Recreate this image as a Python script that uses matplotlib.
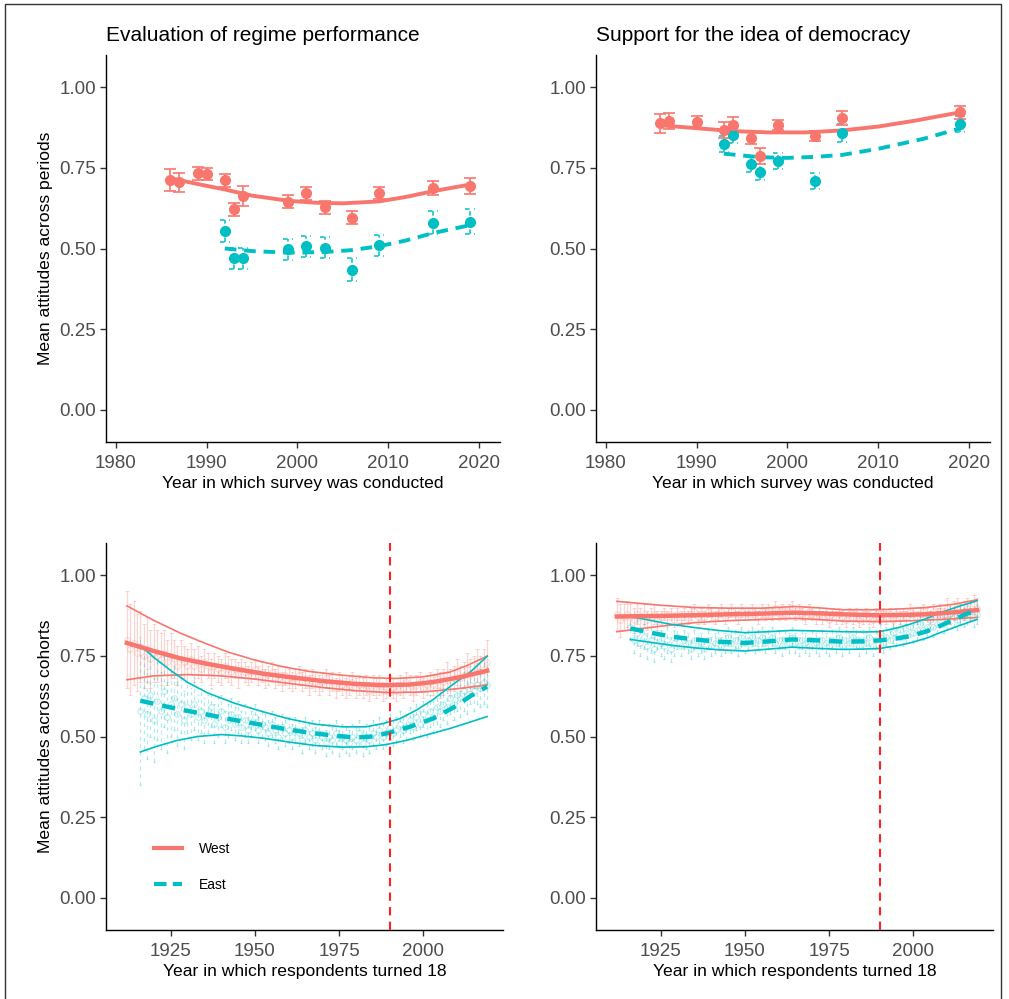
import numpy as np
import matplotlib
matplotlib.use("Agg")
import matplotlib.pyplot as plt
from matplotlib.lines import Line2D

plt.rcParams['font.family'] = ['Liberation Sans', 'DejaVu Sans']

WEST = '#F8766D'
EAST = '#00BFC4'

# ---- period panels: regime performance ----
reg_w_year = [1986, 1987, 1989, 1990, 1992, 1993, 1994, 1999, 2001, 2003, 2006, 2009, 2015, 2019]
reg_w_mean = [0.712, 0.705, 0.733, 0.731, 0.711, 0.622, 0.663, 0.645, 0.671, 0.628, 0.596, 0.672, 0.688, 0.695]
reg_w_err = [0.034, 0.030, 0.020, 0.020, 0.020, 0.020, 0.031, 0.020, 0.020, 0.020, 0.020, 0.020, 0.022, 0.025]
reg_e_year = [1992, 1993, 1994, 1999, 2001, 2003, 2006, 2009, 2015, 2019]
reg_e_mean = [0.554, 0.469, 0.469, 0.497, 0.507, 0.503, 0.434, 0.510, 0.580, 0.583]
reg_e_err = [0.033, 0.033, 0.033, 0.033, 0.033, 0.033, 0.035, 0.033, 0.035, 0.038]
reg_w_fit_x = [1986, 1989, 1992, 1995, 1999, 2002, 2005, 2009, 2012, 2015, 2019]
reg_w_fit_y = [0.718, 0.700, 0.683, 0.664, 0.648, 0.642, 0.640, 0.646, 0.660, 0.678, 0.698]
reg_e_fit_x = [1992, 1995, 1999, 2003, 2006, 2009, 2012, 2015, 2019]
reg_e_fit_y = [0.500, 0.492, 0.487, 0.489, 0.495, 0.507, 0.525, 0.548, 0.572]

# ---- period panels: support for democracy ----
dem_w_year = [1986, 1987, 1990, 1993, 1994, 1996, 1997, 1999, 2003, 2006, 2019]
dem_w_mean = [0.888, 0.895, 0.893, 0.867, 0.884, 0.843, 0.788, 0.882, 0.848, 0.905, 0.922]
dem_w_err = [0.030, 0.025, 0.018, 0.025, 0.025, 0.018, 0.025, 0.016, 0.016, 0.022, 0.020]
dem_e_year = [1993, 1994, 1996, 1997, 1999, 2003, 2006, 2019]
dem_e_mean = [0.825, 0.851, 0.762, 0.736, 0.770, 0.710, 0.858, 0.885]
dem_e_err = [0.025, 0.025, 0.025, 0.025, 0.025, 0.025, 0.028, 0.025]
dem_w_fit_x = [1986, 1990, 1994, 1998, 2002, 2006, 2010, 2014, 2019]
dem_w_fit_y = [0.882, 0.873, 0.864, 0.860, 0.860, 0.866, 0.878, 0.896, 0.922]
dem_e_fit_x = [1993, 1997, 2000, 2003, 2006, 2010, 2015, 2019]
dem_e_fit_y = [0.794, 0.783, 0.781, 0.784, 0.790, 0.809, 0.840, 0.872]

# ---- cohort panels ----
coh_w_year = list(range(1912, 2020))
coh_e_year = list(range(1916, 2020))

coh_reg_w_mean = [
    0.80, 0.77, 0.79, 0.76, 0.78, 0.75, 0.77, 0.74, 0.76, 0.75,
    0.74, 0.76, 0.73, 0.75, 0.74, 0.72, 0.74, 0.73, 0.72, 0.74,
    0.72, 0.73, 0.71, 0.73, 0.72, 0.70, 0.72, 0.71, 0.70, 0.72,
    0.71, 0.70, 0.71, 0.69, 0.71, 0.70, 0.69, 0.70, 0.71, 0.69,
    0.70, 0.68, 0.69, 0.70, 0.68, 0.69, 0.67, 0.69, 0.68, 0.67,
    0.68, 0.69, 0.67, 0.68, 0.66, 0.68, 0.67, 0.66, 0.67, 0.68,
    0.66, 0.67, 0.65, 0.67, 0.66, 0.65, 0.66, 0.67, 0.65, 0.66,
    0.65, 0.66, 0.64, 0.66, 0.65, 0.66, 0.64, 0.65, 0.66, 0.65,
    0.64, 0.66, 0.65, 0.67, 0.66, 0.64, 0.66, 0.67, 0.65, 0.66,
    0.67, 0.66, 0.68, 0.66, 0.67, 0.69, 0.67, 0.68, 0.70, 0.68,
    0.69, 0.71, 0.69, 0.70, 0.72, 0.70, 0.71, 0.73]
coh_reg_w_err = [
    0.15, 0.14, 0.13, 0.12, 0.11, 0.10, 0.10, 0.09, 0.09, 0.08,
    0.08, 0.07, 0.07, 0.07, 0.06, 0.06, 0.06, 0.05, 0.05, 0.05,
    0.05, 0.05, 0.04, 0.04, 0.04, 0.04, 0.04, 0.04, 0.04, 0.04,
    0.04, 0.04, 0.03, 0.04, 0.03, 0.03, 0.03, 0.03, 0.03, 0.03,
    0.03, 0.03, 0.03, 0.03, 0.03, 0.03, 0.03, 0.03, 0.03, 0.03,
    0.03, 0.03, 0.03, 0.03, 0.03, 0.03, 0.03, 0.03, 0.03, 0.03,
    0.03, 0.03, 0.03, 0.03, 0.03, 0.03, 0.03, 0.03, 0.03, 0.03,
    0.03, 0.03, 0.03, 0.03, 0.03, 0.03, 0.03, 0.03, 0.03, 0.03,
    0.03, 0.03, 0.03, 0.03, 0.03, 0.03, 0.03, 0.03, 0.03, 0.03,
    0.03, 0.03, 0.03, 0.04, 0.04, 0.04, 0.04, 0.04, 0.04, 0.04,
    0.04, 0.05, 0.05, 0.05, 0.05, 0.05, 0.06, 0.07]
coh_reg_e_mean = [
    0.58, 0.62, 0.57, 0.63, 0.55, 0.61, 0.58, 0.64, 0.56, 0.60,
    0.62, 0.57, 0.60, 0.55, 0.59, 0.57, 0.60, 0.56, 0.58, 0.55,
    0.57, 0.59, 0.54, 0.56, 0.58, 0.53, 0.55, 0.57, 0.54, 0.56,
    0.53, 0.55, 0.52, 0.54, 0.56, 0.52, 0.54, 0.53, 0.51, 0.54,
    0.52, 0.50, 0.53, 0.51, 0.52, 0.50, 0.52, 0.51, 0.49, 0.52,
    0.50, 0.51, 0.49, 0.51, 0.50, 0.48, 0.50, 0.49, 0.51, 0.48,
    0.50, 0.49, 0.48, 0.50, 0.49, 0.51, 0.48, 0.50, 0.49, 0.51,
    0.50, 0.52, 0.50, 0.51, 0.53, 0.51, 0.52, 0.54, 0.52, 0.53,
    0.55, 0.53, 0.56, 0.54, 0.57, 0.55, 0.58, 0.56, 0.59, 0.58,
    0.60, 0.59, 0.62, 0.60, 0.63, 0.62, 0.64, 0.63, 0.66, 0.64,
    0.66, 0.65, 0.67, 0.66]
coh_reg_e_err = [
    0.23, 0.16, 0.14, 0.13, 0.13, 0.12, 0.12, 0.11, 0.11, 0.10,
    0.10, 0.10, 0.09, 0.09, 0.08, 0.08, 0.08, 0.07, 0.07, 0.07,
    0.06, 0.06, 0.06, 0.06, 0.05, 0.05, 0.05, 0.05, 0.05, 0.05,
    0.05, 0.05, 0.04, 0.04, 0.04, 0.04, 0.04, 0.04, 0.04, 0.04,
    0.04, 0.04, 0.04, 0.04, 0.04, 0.04, 0.04, 0.04, 0.04, 0.04,
    0.04, 0.04, 0.04, 0.04, 0.04, 0.04, 0.04, 0.04, 0.04, 0.04,
    0.04, 0.04, 0.04, 0.04, 0.04, 0.04, 0.04, 0.04, 0.04, 0.04,
    0.04, 0.04, 0.04, 0.04, 0.04, 0.04, 0.04, 0.04, 0.04, 0.04,
    0.04, 0.04, 0.04, 0.04, 0.04, 0.05, 0.05, 0.05, 0.05, 0.05,
    0.05, 0.05, 0.05, 0.05, 0.05, 0.06, 0.06, 0.06, 0.06, 0.06,
    0.06, 0.06, 0.07, 0.07]
coh_reg_w_fit_x = [1912, 1920, 1928, 1936, 1945, 1953, 1962, 1971, 1980, 1988, 1996, 2003, 2011, 2019]
coh_reg_w_fit_y = [0.790, 0.765, 0.742, 0.725, 0.708, 0.694, 0.682, 0.671, 0.663, 0.659, 0.661, 0.669, 0.684, 0.704]
coh_reg_w_hi_x = [1912, 1920, 1928, 1935, 1942, 1950, 1958, 1966, 1975, 1985, 1992, 2000, 2008, 2013, 2019]
coh_reg_w_hi_y = [0.905, 0.860, 0.820, 0.790, 0.762, 0.737, 0.717, 0.702, 0.691, 0.682, 0.680, 0.685, 0.700, 0.720, 0.749]
coh_reg_w_lo_x = [1912, 1920, 1930, 1940, 1950, 1960, 1970, 1980, 1990, 2000, 2010, 2019]
coh_reg_w_lo_y = [0.676, 0.688, 0.692, 0.688, 0.678, 0.665, 0.652, 0.642, 0.636, 0.638, 0.648, 0.660]
coh_reg_e_fit_x = [1916, 1922, 1928, 1935, 1942, 1950, 1958, 1966, 1974, 1980, 1985, 1990, 1996, 2003, 2009, 2014, 2019]
coh_reg_e_fit_y = [0.611, 0.597, 0.583, 0.570, 0.555, 0.540, 0.525, 0.512, 0.502, 0.497, 0.500, 0.512, 0.530, 0.556, 0.590, 0.625, 0.655]
coh_reg_e_hi_x = [1916, 1920, 1925, 1930, 1936, 1944, 1952, 1960, 1968, 1976, 1983, 1988, 1993, 1998, 2003, 2008, 2014, 2019]
coh_reg_e_hi_y = [0.783, 0.745, 0.705, 0.668, 0.635, 0.603, 0.578, 0.555, 0.538, 0.530, 0.530, 0.540, 0.555, 0.582, 0.615, 0.655, 0.700, 0.749]
coh_reg_e_lo_x = [1916, 1921, 1927, 1933, 1940, 1946, 1953, 1960, 1968, 1976, 1983, 1989, 1995, 2001, 2008, 2014, 2019]
coh_reg_e_lo_y = [0.452, 0.470, 0.488, 0.500, 0.506, 0.502, 0.494, 0.483, 0.472, 0.467, 0.468, 0.475, 0.488, 0.505, 0.525, 0.545, 0.562]

coh_dem_w_mean = [
    0.88, 0.86, 0.87, 0.88, 0.87, 0.86, 0.88, 0.87, 0.88, 0.86,
    0.87, 0.88, 0.86, 0.87, 0.88, 0.87, 0.88, 0.86, 0.88, 0.87,
    0.88, 0.87, 0.88, 0.89, 0.87, 0.88, 0.87, 0.89, 0.88, 0.87,
    0.88, 0.89, 0.87, 0.88, 0.89, 0.88, 0.87, 0.89, 0.88, 0.88,
    0.89, 0.88, 0.87, 0.89, 0.88, 0.89, 0.88, 0.90, 0.88, 0.89,
    0.88, 0.89, 0.90, 0.88, 0.89, 0.88, 0.87, 0.89, 0.88, 0.87,
    0.88, 0.87, 0.88, 0.86, 0.88, 0.87, 0.88, 0.87, 0.86, 0.88,
    0.87, 0.88, 0.86, 0.87, 0.88, 0.87, 0.86, 0.88, 0.87, 0.88,
    0.87, 0.88, 0.86, 0.88, 0.87, 0.88, 0.87, 0.89, 0.88, 0.87,
    0.88, 0.89, 0.88, 0.87, 0.89, 0.88, 0.89, 0.88, 0.90, 0.88,
    0.89, 0.90, 0.88, 0.89, 0.90, 0.89, 0.91, 0.90]
coh_dem_w_err = [
    0.05, 0.05, 0.04, 0.04, 0.04, 0.04, 0.03, 0.03, 0.03, 0.03,
    0.03, 0.03, 0.03, 0.02, 0.02, 0.02, 0.02, 0.02, 0.02, 0.02,
    0.02, 0.02, 0.02, 0.02, 0.02, 0.02, 0.02, 0.02, 0.02, 0.02,
    0.02, 0.02, 0.02, 0.02, 0.02, 0.02, 0.02, 0.02, 0.02, 0.02,
    0.02, 0.02, 0.02, 0.02, 0.02, 0.02, 0.02, 0.02, 0.02, 0.02,
    0.02, 0.02, 0.02, 0.02, 0.02, 0.02, 0.02, 0.02, 0.02, 0.02,
    0.02, 0.02, 0.02, 0.02, 0.02, 0.02, 0.02, 0.02, 0.02, 0.02,
    0.02, 0.02, 0.02, 0.02, 0.02, 0.02, 0.02, 0.02, 0.02, 0.02,
    0.02, 0.02, 0.02, 0.02, 0.02, 0.02, 0.02, 0.02, 0.02, 0.02,
    0.02, 0.02, 0.02, 0.02, 0.02, 0.02, 0.02, 0.02, 0.03, 0.03,
    0.03, 0.03, 0.03, 0.03, 0.03, 0.03, 0.03, 0.03]
coh_dem_e_mean = [
    0.84, 0.80, 0.82, 0.79, 0.81, 0.78, 0.80, 0.77, 0.81, 0.79,
    0.78, 0.80, 0.77, 0.79, 0.81, 0.78, 0.80, 0.79, 0.77, 0.80,
    0.78, 0.79, 0.77, 0.80, 0.78, 0.79, 0.80, 0.78, 0.79, 0.81,
    0.79, 0.80, 0.78, 0.81, 0.79, 0.80, 0.81, 0.79, 0.80, 0.81,
    0.79, 0.80, 0.81, 0.79, 0.80, 0.78, 0.80, 0.79, 0.81, 0.79,
    0.78, 0.80, 0.79, 0.78, 0.80, 0.79, 0.78, 0.80, 0.79, 0.78,
    0.80, 0.79, 0.81, 0.78, 0.80, 0.79, 0.81, 0.80, 0.78, 0.80,
    0.79, 0.81, 0.78, 0.80, 0.82, 0.79, 0.81, 0.80, 0.82, 0.81,
    0.83, 0.81, 0.82, 0.84, 0.82, 0.83, 0.85, 0.83, 0.84, 0.86,
    0.84, 0.85, 0.87, 0.85, 0.86, 0.88, 0.87, 0.86, 0.88, 0.87,
    0.88, 0.89, 0.87, 0.88]
coh_dem_e_err = [
    0.04, 0.04, 0.04, 0.04, 0.04, 0.04, 0.04, 0.04, 0.04, 0.04,
    0.04, 0.04, 0.04, 0.04, 0.04, 0.03, 0.03, 0.03, 0.03, 0.03,
    0.03, 0.03, 0.03, 0.03, 0.03, 0.03, 0.03, 0.03, 0.03, 0.03,
    0.03, 0.03, 0.03, 0.03, 0.03, 0.03, 0.03, 0.03, 0.03, 0.03,
    0.03, 0.03, 0.03, 0.03, 0.03, 0.03, 0.03, 0.03, 0.03, 0.03,
    0.03, 0.03, 0.03, 0.03, 0.03, 0.03, 0.03, 0.03, 0.03, 0.03,
    0.03, 0.03, 0.03, 0.03, 0.03, 0.03, 0.03, 0.03, 0.03, 0.03,
    0.03, 0.03, 0.03, 0.03, 0.03, 0.03, 0.03, 0.03, 0.03, 0.03,
    0.03, 0.03, 0.03, 0.03, 0.03, 0.03, 0.03, 0.03, 0.03, 0.03,
    0.03, 0.03, 0.03, 0.03, 0.03, 0.03, 0.03, 0.03, 0.03, 0.03,
    0.03, 0.03, 0.03, 0.03]
coh_dem_w_fit_x = [1912, 1925, 1935, 1945, 1955, 1965, 1972, 1979, 1985, 1990, 1997, 2004, 2012, 2019]
coh_dem_w_fit_y = [0.872, 0.874, 0.876, 0.879, 0.881, 0.884, 0.882, 0.879, 0.877, 0.876, 0.877, 0.879, 0.885, 0.892]
coh_dem_w_hi_x = [1912, 1925, 1935, 1945, 1955, 1965, 1972, 1979, 1990, 1997, 2004, 2012, 2019]
coh_dem_w_hi_y = [0.919, 0.907, 0.900, 0.898, 0.898, 0.903, 0.899, 0.893, 0.893, 0.896, 0.900, 0.910, 0.924]
coh_dem_w_lo_x = [1912, 1925, 1935, 1945, 1955, 1965, 1972, 1979, 1990, 1997, 2004, 2012, 2019]
coh_dem_w_lo_y = [0.825, 0.842, 0.853, 0.859, 0.863, 0.866, 0.863, 0.858, 0.856, 0.858, 0.861, 0.865, 0.869]
coh_dem_e_fit_x = [1916, 1922, 1928, 1935, 1942, 1950, 1957, 1964, 1972, 1979, 1985, 1990, 1995, 1999, 2004, 2008, 2012, 2016, 2019]
coh_dem_e_fit_y = [0.835, 0.822, 0.810, 0.801, 0.794, 0.790, 0.795, 0.801, 0.798, 0.794, 0.795, 0.798, 0.804, 0.811, 0.826, 0.843, 0.862, 0.881, 0.890]
coh_dem_e_hi_x = [1916, 1922, 1928, 1935, 1942, 1950, 1957, 1964, 1972, 1979, 1985, 1990, 1995, 1999, 2004, 2008, 2014, 2019]
coh_dem_e_hi_y = [0.872, 0.860, 0.848, 0.838, 0.829, 0.822, 0.825, 0.829, 0.827, 0.825, 0.824, 0.825, 0.836, 0.848, 0.866, 0.884, 0.905, 0.921]
coh_dem_e_lo_x = [1916, 1922, 1928, 1935, 1942, 1950, 1957, 1964, 1972, 1979, 1985, 1990, 1995, 1999, 2004, 2008, 2014, 2019]
coh_dem_e_lo_y = [0.801, 0.792, 0.783, 0.775, 0.769, 0.765, 0.771, 0.777, 0.773, 0.770, 0.771, 0.773, 0.781, 0.790, 0.805, 0.822, 0.845, 0.863]

yticks = [0.0, 0.25, 0.5, 0.75, 1.0]


def style(ax, xlim, xticks, xlabel, ylabel=None, title=None):
    ax.set_xlim(*xlim)
    ax.set_ylim(-0.1, 1.1)
    ax.set_xticks(xticks)
    ax.set_yticks(yticks)
    ax.set_yticklabels(['%.2f' % t for t in yticks])
    for s in ['top', 'right']:
        ax.spines[s].set_visible(False)
    for s in ['left', 'bottom']:
        ax.spines[s].set_linewidth(1.0)
    ax.tick_params(labelsize=13.5, colors='#333333', labelcolor='#4D4D4D', length=4, width=1.0)
    ax.tick_params(axis='x', pad=5)
    ax.tick_params(axis='y', pad=3)
    ax.set_xlabel(xlabel, fontsize=12.6, labelpad=3)
    if ylabel:
        ax.set_ylabel(ylabel, fontsize=12.6, labelpad=5)
    if title:
        ax.set_title(title, fontsize=15, loc='left', pad=10)


def dashed_errorbars(ax, x, y, e, color, capw, lw=1.1, alpha=1.0):
    x = np.asarray(x); y = np.asarray(y); e = np.asarray(e)
    ax.vlines(x, y - e, y + e, colors=color, linestyles=(0, (3, 3)), lw=lw, alpha=alpha)
    ax.hlines(y - e, x - capw, x + capw, colors=color, linestyles=(0, (3, 3)), lw=lw, alpha=alpha)
    ax.hlines(y + e, x - capw, x + capw, colors=color, linestyles=(0, (3, 3)), lw=lw, alpha=alpha)


def period_panel(ax, wy, wm, we, ey, em, ee, wfx, wfy, efx, efy):
    ax.errorbar(wy, wm, yerr=we, fmt='o', color=WEST, ms=7, capsize=4.5, elinewidth=1.2, capthick=1.2, zorder=3)
    dashed_errorbars(ax, ey, em, ee, EAST, 0.55)
    ax.plot(ey, em, 'o', color=EAST, ms=7, zorder=3)
    ax.plot(wfx, wfy, '-', color=WEST, lw=2.8, zorder=2)
    ax.plot(efx, efy, color=EAST, lw=2.8, ls=(0, (3, 2)), zorder=2)


def cohort_panel(ax, wm, we, em, ee, wf, wh, wl, ef, eh, el):
    ax.errorbar(coh_w_year, wm, yerr=we, fmt='o', mfc='none', color=WEST, alpha=0.3,
                ms=4, elinewidth=0.9, capsize=1.2, mew=0.7, zorder=1)
    dashed_errorbars(ax, coh_e_year, em, ee, EAST, 0.3, lw=0.9, alpha=0.3)
    ax.plot(coh_e_year, em, 'o', mfc='none', color=EAST, alpha=0.3, ms=4, mew=0.7, zorder=1)
    ax.plot(*wh, color=WEST, lw=1.2, zorder=3)
    ax.plot(*wl, color=WEST, lw=1.2, zorder=3)
    ax.plot(*eh, color=EAST, lw=1.2, zorder=3)
    ax.plot(*el, color=EAST, lw=1.2, zorder=3)
    ax.plot(*wf, color=WEST, lw=3.2, zorder=4)
    ax.plot(*ef, color=EAST, lw=3.2, ls=(0, (3, 2)), zorder=4)
    ax.axvline(1990, color='#FF2020', lw=1.5, ls=(0, (4, 3)), zorder=5)


fig = plt.figure(figsize=(10.09, 9.99), dpi=100)
W, H = 1009.0, 999.0
ax1 = fig.add_axes([106 / W, 1 - 442 / H, 394 / W, 387 / H])
ax2 = fig.add_axes([596 / W, 1 - 442 / H, 394 / W, 387 / H])
ax3 = fig.add_axes([106 / W, 1 - 930 / H, 397 / W, 387 / H])
ax4 = fig.add_axes([596 / W, 1 - 930 / H, 397 / W, 387 / H])

period_panel(ax1, reg_w_year, reg_w_mean, reg_w_err, reg_e_year, reg_e_mean, reg_e_err,
             reg_w_fit_x, reg_w_fit_y, reg_e_fit_x, reg_e_fit_y)
period_panel(ax2, dem_w_year, dem_w_mean, dem_w_err, dem_e_year, dem_e_mean, dem_e_err,
             dem_w_fit_x, dem_w_fit_y, dem_e_fit_x, dem_e_fit_y)
cohort_panel(ax3, coh_reg_w_mean, coh_reg_w_err, coh_reg_e_mean, coh_reg_e_err,
             (coh_reg_w_fit_x, coh_reg_w_fit_y), (coh_reg_w_hi_x, coh_reg_w_hi_y),
             (coh_reg_w_lo_x, coh_reg_w_lo_y), (coh_reg_e_fit_x, coh_reg_e_fit_y),
             (coh_reg_e_hi_x, coh_reg_e_hi_y), (coh_reg_e_lo_x, coh_reg_e_lo_y))
cohort_panel(ax4, coh_dem_w_mean, coh_dem_w_err, coh_dem_e_mean, coh_dem_e_err,
             (coh_dem_w_fit_x, coh_dem_w_fit_y), (coh_dem_w_hi_x, coh_dem_w_hi_y),
             (coh_dem_w_lo_x, coh_dem_w_lo_y), (coh_dem_e_fit_x, coh_dem_e_fit_y),
             (coh_dem_e_hi_x, coh_dem_e_hi_y), (coh_dem_e_lo_x, coh_dem_e_lo_y))

period_ticks = [1980, 1990, 2000, 2010, 2020]
cohort_ticks = [1925, 1950, 1975, 2000]
style(ax1, (1978.9, 2022.35), period_ticks, 'Year in which survey was conducted',
      'Mean attitudes across periods', 'Evaluation of regime performance')
style(ax2, (1978.9, 2022.35), period_ticks, 'Year in which survey was conducted',
      None, 'Support for the idea of democracy')
style(ax3, (1905.8, 2023.7), cohort_ticks, 'Year in which respondents turned 18',
      'Mean attitudes across cohorts')
style(ax4, (1905.8, 2023.7), cohort_ticks, 'Year in which respondents turned 18')

handles = [Line2D([], [], color=WEST, lw=3),
           Line2D([], [], color=EAST, lw=3, ls=(0, (3, 1.5)))]
ax3.legend(handles, ['West', 'East'], loc='lower left', bbox_to_anchor=(0.09, 0.066),
           frameon=False, fontsize=10, handlelength=2.0, labelspacing=1.6, handletextpad=1.2)

# outer border of the screenshot
fig.add_artist(Line2D([5 / W, 5 / W, 1001 / W, 1001 / W], [0, 1 - 4 / H, 1 - 4 / H, 0],
                      color='#333333', lw=1.0, transform=fig.transFigure))

fig.savefig('out.png', dpi=100, facecolor='white')
